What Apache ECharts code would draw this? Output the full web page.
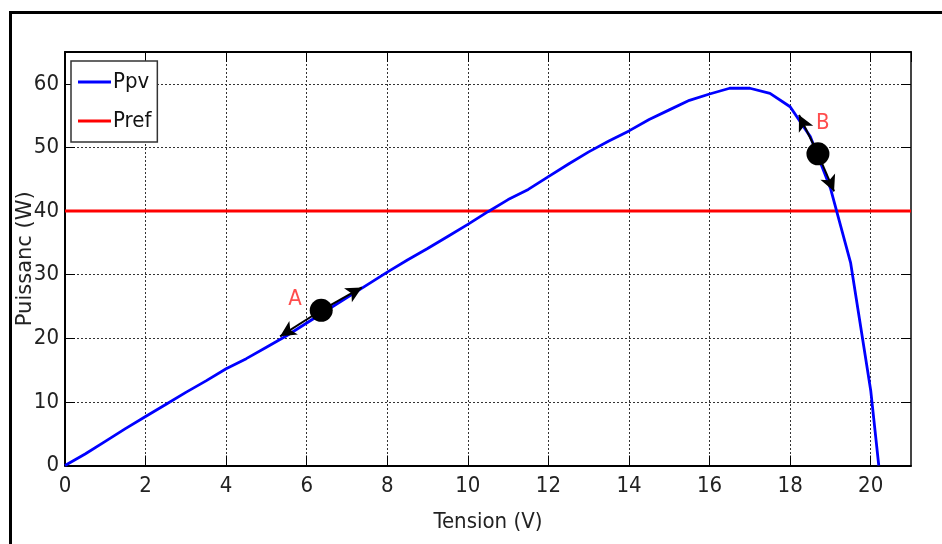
<!DOCTYPE html>
<html>
<head>
<meta charset="utf-8">
<script src="https://cdn.jsdelivr.net/npm/echarts@6/dist/echarts.min.js"></script>
<style>html,body{margin:0;padding:0;background:#fff}#c{width:942px;height:544px}</style>
</head>
<body>
<div id="c"></div>
<script>
// ---- data ----
const tension = [0,0.5,1,1.5,2,2.5,3,3.5,4,4.5,5,5.5,6,6.5,7,7.5,8,8.5,9,9.5,10,10.5,11,11.5,12,12.5,13,13.5,14,14.5,15,15.5,16,16.5,17,17.5,18,18.5,19,19.5,20,20.2];
const ppv = [0,1.8,3.8,5.8,7.7,9.6,11.5,13.3,15.2,16.8,18.6,20.4,22.4,24.4,26.4,28.4,30.4,32.3,34.1,36.0,37.9,39.9,41.8,43.4,45.4,47.4,49.3,51.0,52.6,54.4,55.9,57.4,58.4,59.3,59.3,58.5,56.4,51.7,43.6,31.9,11.8,0];
const prefValue = 40;
const xTicks = ['0','2','4','6','8','10','12','14','16','18','20'];
const yTicks = ['0','10','20','30','40','50','60'];
const pointNames = ['A','B'];
const pointX = [6.36, 18.69];
const pointY = [24.4, 49.0];
const labelX = [5.71, 18.81];
const labelY = [26.2, 53.8];
// arrow ends: [from point index, toX, toY]
const arrowFrom = [0, 0, 1, 1];
const arrowToX = [5.34, 7.37, 18.22, 19.09];
const arrowToY = [20.3, 28.0, 55.1, 43.1];

const NARROW = '"DejaVu Sans Condensed","DejaVu Sans",sans-serif';
const chart = echarts.init(document.getElementById('c'), null, {renderer:'canvas'});

const ppvData = tension.map((t,i)=>[t, ppv[i]]);
const prefData = [[0, prefValue],[21, prefValue]];
const pts = pointX.map((x,i)=>[x, pointY[i]]);
const lbls = labelX.map((x,i)=>({name: pointNames[i], value:[x, labelY[i]]}));
const arrows = arrowFrom.map((p,i)=>[{coord:[pointX[p], pointY[p]]},{coord:[arrowToX[i], arrowToY[i]]}]);

const axisText = {fontFamily: NARROW, fontWeight: 'condensed', fontSize: 22, color: '#222'};
chart.setOption({
  animation: false,
  backgroundColor: '#fff',
  grid: {left: 65, top: 52, right: 31, bottom: 78.5, show: false, containLabel: false, outerBoundsMode: 'none'},
  graphic: [{
    type: 'rect', left: 8, top: 10, silent: true,
    shape: {x: 0, y: 0, width: 1100, height: 700},
    style: {fill: 'none', stroke: '#000', lineWidth: 3}
  }],
  legend: {
    data: ['Ppv','Pref'],
    orient: 'vertical', left: 71, top: 61,
    padding: [10, 6, 10, 7],
    itemGap: 17, itemWidth: 33, itemHeight: 3, icon: 'rect',
    backgroundColor: '#fff', borderColor: '#333', borderWidth: 1.5,
    textStyle: {fontFamily: NARROW, fontWeight: 'condensed', fontSize: 22, color: '#111', padding:[0,0,0,-3]}
  },
  xAxis: [{
    type: 'value', min: 0, max: 21, interval: 2, position: 'bottom',
    name: 'Tension (V)', nameLocation: 'middle', nameGap: 46, nameMoveOverlap: false,
    nameTextStyle: {fontFamily: NARROW, fontWeight: 'condensed', fontSize: 22, color: '#222'},
    axisLine: {show: true, onZero: false, lineStyle: {color: '#000', width: 2}},
    axisTick: {show: true, inside: true, length: 10, lineStyle: {color: '#000', width: 1}},
    axisLabel: Object.assign({showMaxLabel: false, margin: 10, formatter: v => xTicks[v/2] ?? ''}, axisText),
    splitLine: {show: true, lineStyle: {color: '#333', width: 1, type: [2,2]}}
  },{
    type: 'value', min: 0, max: 21, interval: 2, position: 'top',
    axisLine: {show: true, onZero: false, lineStyle: {color: '#000', width: 2}},
    axisTick: {show: true, inside: true, length: 10, lineStyle: {color: '#000', width: 1}},
    axisLabel: {show: false}, splitLine: {show: false}
  }],
  yAxis: [{
    type: 'value', min: 0, max: 65, interval: 10, position: 'left',
    name: 'Puissanc (W)', nameLocation: 'middle', nameGap: 29, nameRotate: 90, nameMoveOverlap: false,
    nameTextStyle: {fontFamily: '"DejaVu Sans",sans-serif', fontSize: 21, color: '#222'},
    axisLine: {show: true, onZero: false, lineStyle: {color: '#000', width: 2}},
    axisTick: {show: true, inside: true, length: 10, lineStyle: {color: '#000', width: 1}},
    axisLabel: Object.assign({showMaxLabel: false, margin: 6, formatter: v => yTicks[v/10] ?? ''}, axisText),
    splitLine: {show: true, lineStyle: {color: '#333', width: 1, type: [2,2]}}
  },{
    type: 'value', min: 0, max: 65, interval: 10, position: 'right',
    axisLine: {show: true, onZero: false, lineStyle: {color: '#444', width: 2}},
    axisTick: {show: true, inside: true, length: 10, lineStyle: {color: '#000', width: 1}},
    axisLabel: {show: false}, splitLine: {show: false}
  }],
  series: [{
    name: 'Ppv', type: 'line', data: ppvData, showSymbol: false, symbol: 'none',
    lineStyle: {color: '#0000ff', width: 2.8}, itemStyle: {color: '#0000ff'}, z: 3,
    markLine: {
      silent: true, symbol: ['none','arrow'], symbolSize: [12, 16],
      label: {show: false},
      lineStyle: {color: '#000', width: 2, type: 'solid'},
      emphasis: {disabled: true},
      data: arrows
    }
  },{
    name: 'Pref', type: 'line', data: prefData, showSymbol: false, symbol: 'none',
    lineStyle: {color: '#ff0000', width: 3}, itemStyle: {color: '#ff0000'}, z: 2
  },{
    name: 'points', type: 'scatter', data: pts, symbolSize: 23,
    itemStyle: {color: '#000', opacity: 1}, z: 5, silent: true
  },{
    name: 'labels', type: 'scatter', data: lbls, symbolSize: 0, silent: true,
    label: {show: true, position: 'inside', formatter: p => p.name,
      fontFamily: NARROW, fontWeight: 'condensed', fontSize: 22, color: '#ff2020'}
  }]
});
</script>
</body>
</html>
